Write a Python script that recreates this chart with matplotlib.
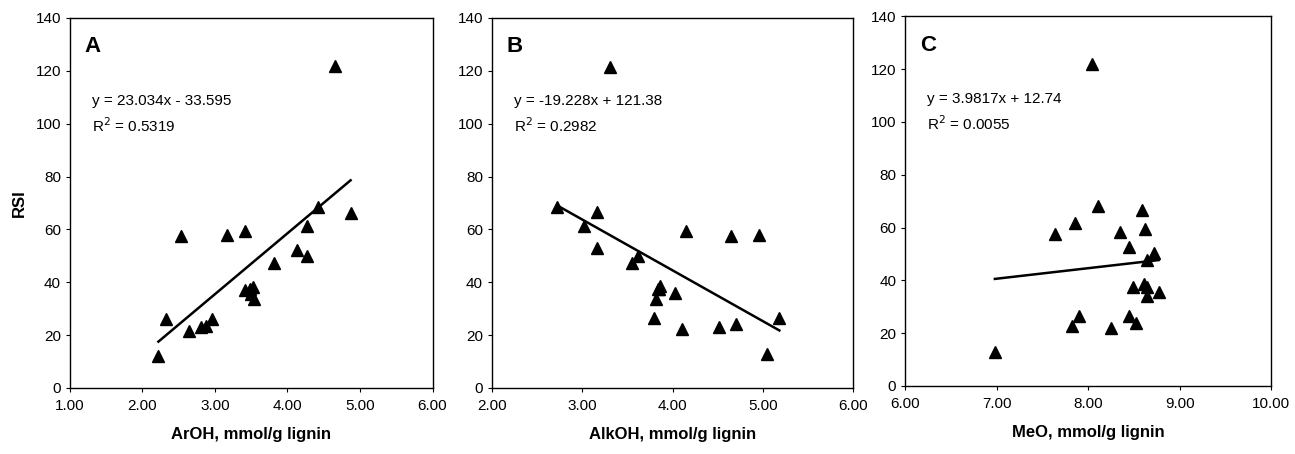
import matplotlib
matplotlib.use('Agg')
import matplotlib.pyplot as plt
import numpy as np

plt.rcParams['font.family'] = ['Liberation Sans', 'DejaVu Sans']

rsi_a = [122, 68.4, 66.3, 61.4, 59.5, 57.8, 57.5, 52.2, 49.9, 47.4, 38.1, 37.4, 37.1,
         35.6, 33.5, 26.1, 26.1, 23.6, 23.0, 21.7, 12.1]
aroh = [4.66, 4.42, 4.87, 4.27, 3.41, 3.17, 2.53, 4.13, 4.27, 3.81, 3.52, 3.48, 3.42,
        3.50, 3.54, 2.96, 2.32, 2.87, 2.81, 2.64, 2.22]

rsi_b = [121.6, 68.6, 66.5, 61.4, 59.5, 57.9, 57.6, 52.9, 49.9, 47.4, 38.6, 37.4, 37.3,
         35.8, 33.7, 26.6, 26.6, 24.2, 23.0, 22.2, 12.7]
alkoh = [3.30, 2.72, 3.16, 3.02, 4.15, 4.95, 4.65, 3.16, 3.62, 3.55, 3.86, 3.84, 3.85,
         4.02, 3.82, 3.79, 5.18, 4.70, 4.51, 4.10, 5.04]

rsi_c = [122.0, 68.3, 66.7, 61.9, 59.4, 58.3, 57.5, 52.8, 50.3, 47.8, 38.6, 37.4, 37.4,
         35.6, 34.1, 26.6, 26.3, 24.0, 22.8, 21.9, 12.7]
meo = [8.04, 8.11, 8.59, 7.86, 8.62, 8.35, 7.64, 8.45, 8.72, 8.64, 8.61, 8.49, 8.64,
       8.77, 8.64, 8.45, 7.90, 8.52, 7.82, 8.25, 6.98]

slopes = [23.034, -19.228, 3.9817]
intercepts = [-33.595, 121.38, 12.74]
eq_texts = ['y = 23.034x - 33.595', 'y = -19.228x + 121.38', 'y = 3.9817x + 12.74']
r2_texts = ['R$^2$ = 0.5319', 'R$^2$ = 0.2982', 'R$^2$ = 0.0055']
letters = ['A', 'B', 'C']
xlabels = ['ArOH, mmol/g lignin', 'AlkOH, mmol/g lignin', 'MeO, mmol/g lignin']
xlims = [(1, 6), (2, 6), (6, 10)]
xticks = [[1, 2, 3, 4, 5, 6], [2, 3, 4, 5, 6], [6, 7, 8, 9, 10]]

fig = plt.figure(figsize=(12.95, 4.54), dpi=100)
boxes = [[0.054, 0.1454, 0.280, 0.815],
         [0.380, 0.1454, 0.279, 0.815],
         [0.699, 0.150, 0.2826, 0.814]]

xs_all = [aroh, alkoh, meo]
ys_all = [rsi_a, rsi_b, rsi_c]

for i in range(3):
    ax = fig.add_axes(boxes[i])
    x = np.array(xs_all[i])
    y = np.array(ys_all[i])
    ax.plot(x, y, '^', color='black', ms=9, mec='black')
    xl = np.array([x.min(), x.max()])
    ax.plot(xl, slopes[i] * xl + intercepts[i], color='black', lw=1.8)
    ax.set_xlim(*xlims[i])
    ax.set_ylim(0, 140)
    ax.set_yticks(range(0, 141, 20))
    ax.set_xticks(xticks[i])
    ax.set_xticklabels(['%.2f' % v for v in xticks[i]])
    ax.tick_params(axis='both', labelsize=11, length=3, width=0.8, direction='out')
    ax.tick_params(axis='x', pad=5)
    for s in ax.spines.values():
        s.set_linewidth(1.0)
    ax.set_xlabel(xlabels[i], fontsize=12, fontweight='bold', labelpad=10)
    ax.text(0.04, 0.922, letters[i], transform=ax.transAxes, fontsize=16,
            fontweight='bold', va='center')
    ax.text(0.06, 0.775, eq_texts[i], transform=ax.transAxes, fontsize=11, va='center')
    ax.text(0.06, 0.71, r2_texts[i], transform=ax.transAxes, fontsize=11, va='center')
    if i == 0:
        ax.set_ylabel('RSI', fontsize=12, fontweight='bold', labelpad=6)

fig.savefig('out.png', dpi=100)
